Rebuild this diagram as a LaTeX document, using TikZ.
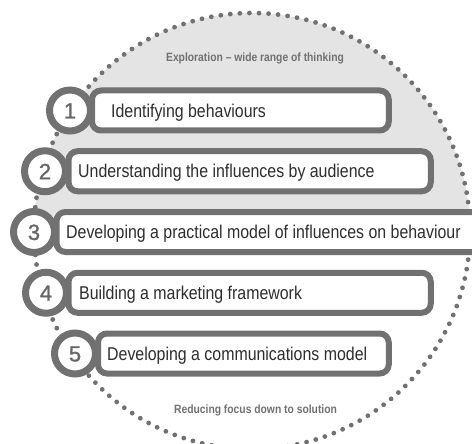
\documentclass[tikz,border=0pt]{standalone}
\usepackage{fontspec}
\setmainfont{Liberation Sans}
\newfontfamily\narrowfont[FakeStretch=0.86]{Liberation Sans}
\newfontfamily\numberfont[FakeBold=1.2]{Liberation Sans}
\usetikzlibrary{positioning}
\definecolor{ringgray}{HTML}{717171}
\definecolor{fillgray}{HTML}{E4E4E4}
\definecolor{textgray}{HTML}{2E2E2E}
\tikzset{%
  % Specifications for style of nodes:
     stepBox/.style = {rectangle, rounded corners=9pt, draw=ringgray,
                       line width=6pt, fill=white, minimum height=40pt,
                       anchor=west, inner sep=0pt},
  stepNumber/.style = {circle, draw=ringgray, line width=7pt, fill=white,
                       minimum size=41pt, inner sep=0pt, text=ringgray!90!black,
                       font=\numberfont\fontsize{22}{22}\selectfont,
                       text height=15.8pt, text depth=0pt},
    stepText/.style = {inner sep=0pt, text=textgray,
                       font=\narrowfont\fontsize{18.5}{20}\selectfont,
                       text height=13.3pt, text depth=0pt},
     caption/.style = {inner sep=0pt, text=ringgray,
                       font=\narrowfont\bfseries\fontsize{12}{14}\selectfont},
  % dotted outline of the funnel circle
        ring/.style = {draw=ringgray, line width=4.8pt, line cap=round,
                       dash pattern=on 0pt off 9.578pt},
}

\begin{document}
\begin{tikzpicture}[x=1pt, y=-1pt]
  \clip (0,0) rectangle (472,444);
  % Background circle: shaded upper half, dotted outline
  \fill[fillgray] (34,231) arc[start angle=180, end angle=360, radius=218] -- cycle;
  \draw[ring] (252,231) circle[radius=218];
  \node (explore) [caption] at (255,58) {Exploration – wide range of thinking};
  \node (reduce)  [caption] at (255.5,410) {Reducing focus down to solution};
  % Steps: box first, numbered circle on top, then the text
  \node (box1) [stepBox, minimum width=296.75pt] at (89,110.5) {};
  \node (num1) [stepNumber] at (70,110.5) {1};
  \node (text1) [stepText, right=17pt of num1] {Identifying behaviours};
  \node (box2) [stepBox, minimum width=362.25pt] at (65.5,171.25) {};
  \node (num2) [stepNumber] at (45,171.25) {2};
  \node (text2) [stepText, right=9pt of num2] {Understanding the influences by audience};
  \node (box3) [stepBox, minimum width=426.5pt] at (53.5,232) {};
  \node (num3) [stepNumber] at (34,232) {3};
  \node (text3) [stepText, right=8pt of num3] {Developing a practical model of influences on behaviour};
  \node (box4) [stepBox, minimum width=362.25pt] at (65.5,292.75) {};
  \node (num4) [stepNumber] at (46,292.75) {4};
  \node (text4) [stepText, right=9pt of num4] {Building a marketing framework};
  \node (box5) [stepBox, minimum width=290.75pt] at (95,353.5) {};
  \node (num5) [stepNumber] at (75,353.5) {5};
  \node (text5) [stepText, right=8pt of num5] {Developing a communications model};
\end{tikzpicture}
\end{document}
